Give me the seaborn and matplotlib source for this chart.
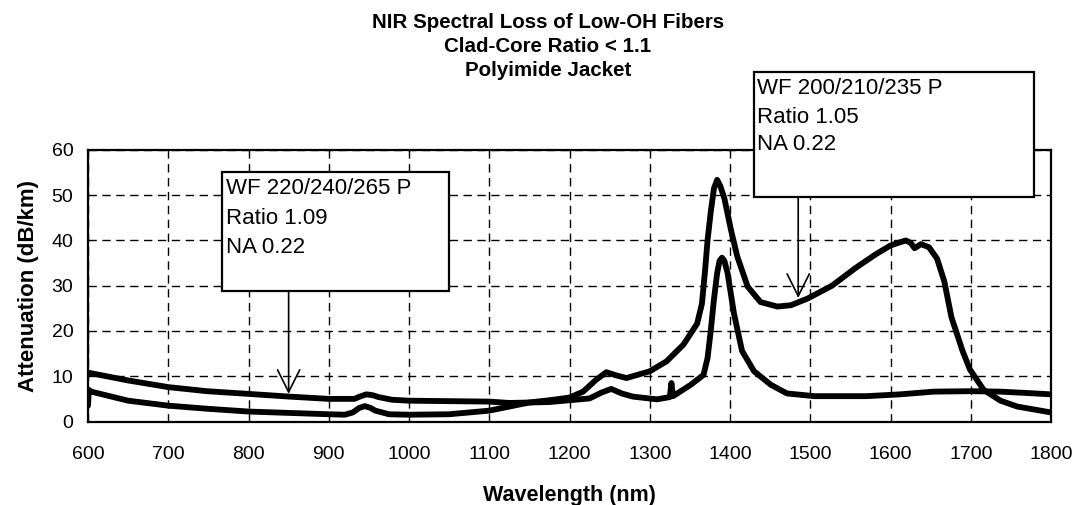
import numpy as np
import pandas as pd
import matplotlib
matplotlib.use("Agg")
import matplotlib.pyplot as plt
from matplotlib.patches import Rectangle
import seaborn as sns

# ---- data ----
wl_a = [600, 649, 700, 748, 800, 851, 900, 932, 940, 947, 955, 962, 979, 1000, 1048, 1100,
        1125, 1175, 1225, 1240, 1252, 1265, 1279, 1309, 1325, 1327, 1329, 1351, 1367, 1372, 1376,
        1380, 1384, 1387, 1390, 1393, 1397, 1405, 1415, 1430, 1451, 1471, 1505, 1570, 1612, 1654,
        1700, 1737, 1770, 1800]
att_a = [10.8, 9.1, 7.6, 6.7, 6.1, 5.5, 5.0, 5.0, 5.6, 6.0, 5.8, 5.4, 4.8, 4.6, 4.5, 4.4,
         4.1, 4.3, 5.1, 6.4, 7.2, 6.2, 5.5, 4.9, 5.4, 8.5, 5.6, 8.1, 10.3, 14.0, 20.0,
         27.0, 32.8, 35.5, 36.2, 35.5, 32.8, 23.8, 15.6, 11.1, 8.1, 6.2, 5.6, 5.6, 6.0, 6.6,
         6.7, 6.6, 6.3, 6.0]

wl_b = [600, 601, 604, 650, 700, 750, 800, 850, 900, 920, 930, 938, 945, 952, 958, 975,
        1000, 1050, 1100, 1125, 1150, 1175, 1200, 1217, 1233, 1246, 1258, 1271,
        1300, 1321, 1342, 1359, 1365, 1369, 1372, 1376, 1380, 1384, 1388, 1393, 1401,
        1409, 1422, 1438, 1459, 1476, 1497, 1527, 1557, 1582, 1600, 1610, 1619,
        1625, 1630, 1638, 1648, 1658, 1667, 1676, 1690, 1699, 1716, 1737, 1758,
        1800]
att_b = [3.5, 7.0, 6.6, 4.6, 3.5, 2.8, 2.2, 1.9, 1.6, 1.5, 2.0, 3.0, 3.4, 3.0, 2.4, 1.6,
         1.5, 1.6, 2.4, 3.3, 4.2, 4.7, 5.3, 6.6, 9.2, 10.9, 10.2, 9.6,
         11.1, 13.3, 17.0, 21.6, 26.0, 33.5, 40.0, 46.3, 51.5, 53.4, 52.0, 49.3, 42.5,
         36.5, 29.8, 26.4, 25.4, 25.7, 27.2, 30.0, 34.0, 37.0, 38.9, 39.5, 40.0,
         39.5, 38.3, 39.2, 38.5, 36.0, 31.0, 23.0, 15.5, 11.5, 7.0, 4.6, 3.3,
         2.0]

series_names = ["WF 220/240/265 P", "WF 200/210/235 P"]
x_ticks = [600, 700, 800, 900, 1000, 1100, 1200, 1300, 1400, 1500, 1600, 1700, 1800]
y_ticks = [0, 10, 20, 30, 40, 50, 60]
title_lines = ["NIR Spectral Loss of Low-OH Fibers", "Clad-Core Ratio < 1.1", "Polyimide Jacket"]
box_a_lines = ["WF 220/240/265 P", "Ratio 1.09", "NA 0.22"]
box_b_lines = ["WF 200/210/235 P", "Ratio 1.05", "NA 0.22"]

df = pd.concat([
    pd.DataFrame({"Wavelength": wl_a, "Attenuation": att_a, "fiber": series_names[0]}),
    pd.DataFrame({"Wavelength": wl_b, "Attenuation": att_b, "fiber": series_names[1]}),
])

sns.set_style("white")
plt.rcParams["font.family"] = ["Liberation Sans", "DejaVu Sans"]
plt.rcParams["text.color"] = "black"
plt.rcParams["axes.labelcolor"] = "black"

fig = plt.figure(figsize=(10.79, 5.05), dpi=100)
ax = fig.add_axes([88 / 1079, 1 - 421.5 / 505, (1051 - 88) / 1079, (421.5 - 150) / 505])

sns.lineplot(data=df, x="Wavelength", y="Attenuation", hue="fiber",
             palette=["black", "black"], linewidth=4.2, legend=False, ax=ax,
             sort=False, estimator=None, zorder=3)
for ln in ax.get_lines():
    ln.set_solid_joinstyle("round")
    ln.set_solid_capstyle("round")

ax.set_xlim(600, 1800)
ax.set_ylim(0, 60)
ax.set_xticks(x_ticks)
ax.set_yticks(y_ticks)
ax.grid(True, color="black", linestyle=(0, (6, 4)), linewidth=1.0)
for s in ax.spines.values():
    s.set_visible(True)
    s.set_color("black")
    s.set_linewidth(1.6)
ax.tick_params(axis="both", direction="inout", length=7, width=1.2, colors="black",
               labelsize=14, labelcolor="black")
ax.tick_params(axis="x", pad=14)
ax.tick_params(axis="y", pad=7)
ax.set_xlabel("Wavelength (nm)", fontsize=15.5, fontweight="bold", labelpad=16)
ax.set_ylabel("Attenuation (dB/km)", fontsize=16, fontweight="bold", labelpad=9)

# title
for i, line in enumerate(title_lines):
    fig.text(548 / 1079, 1 - (23 + 24 * i) / 505, line, ha="center", va="center",
             fontsize=14.8, fontweight="bold", color="black")

# annotation boxes
def add_box(x0, x1, y0, y1, tx, tys, lines, arrow_x, arrow_y):
    ax.add_patch(Rectangle((x0, y0), x1 - x0, y1 - y0, facecolor="white",
                           edgecolor="black", linewidth=1.6, clip_on=False, zorder=5))
    for ty, line in zip(tys, lines):
        ax.text(tx, ty, line, fontsize=16, ha="left", va="center", zorder=6,
                clip_on=False, color="black")
    ax.annotate("", xy=(arrow_x, arrow_y), xytext=(arrow_x, y0),
                arrowprops=dict(arrowstyle="->,head_length=0.8,head_width=0.4",
                                mutation_scale=20, lw=1.2, color="black",
                                shrinkA=0, shrinkB=0), zorder=6, annotation_clip=False)

add_box(767, 1050, 28.9, 55.2, 772, [51.4, 44.9, 38.5], box_a_lines, 850, 6.1)
add_box(1430, 1779, 49.6, 77.2, 1434, [73.6, 67.2, 61.3], box_b_lines, 1485, 27.3)

fig.savefig("out.png", dpi=100)
